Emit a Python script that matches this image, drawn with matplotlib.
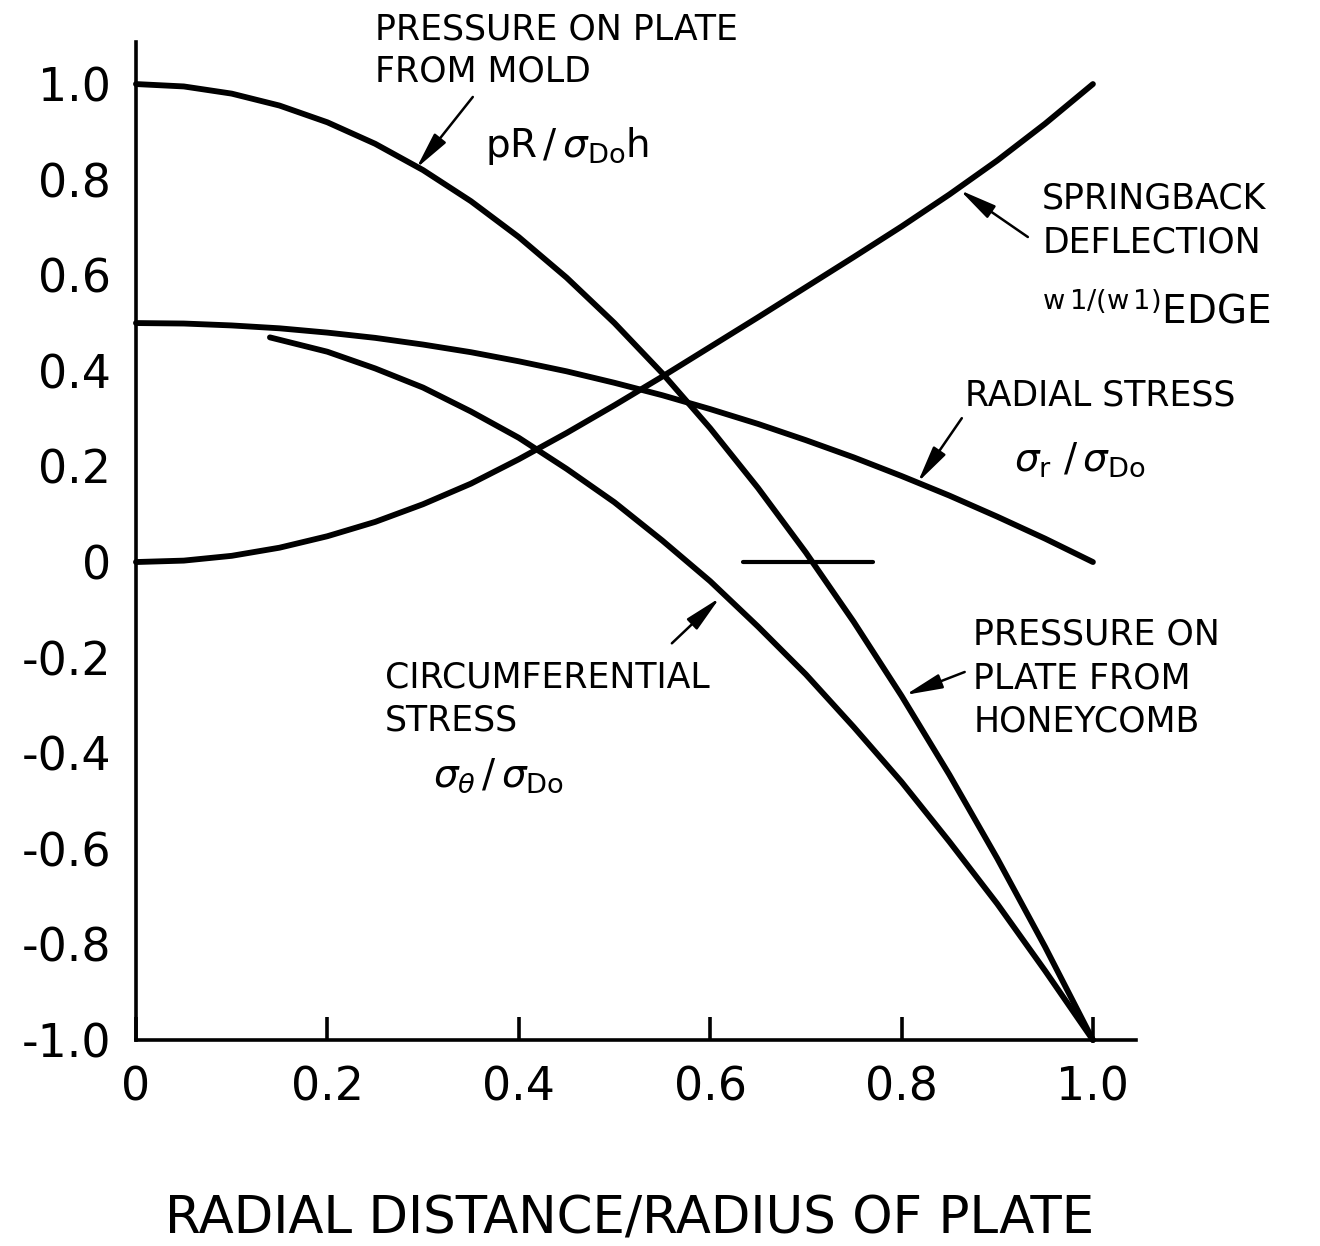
import numpy as np
import matplotlib.pyplot as plt

plt.rcParams['font.family'] = ['DejaVu Sans']
plt.rcParams['mathtext.fontset'] = 'dejavusans'

# pressure on plate from mold, pR/sigma_Do h
r_mold = [0.0, 0.05, 0.10, 0.15, 0.20, 0.25, 0.30, 0.35, 0.40, 0.45, 0.50,
          0.55, 0.60, 0.65, 0.70, 0.75, 0.80, 0.85, 0.90, 0.95, 1.0]
p_mold = [1.0, 0.995, 0.98, 0.955, 0.92, 0.875, 0.82, 0.755, 0.68, 0.595, 0.50,
          0.395, 0.28, 0.155, 0.02, -0.125, -0.28, -0.445, -0.62, -0.805, -1.0]

# springback deflection w1/(w1)edge
r_spring = [0.0, 0.05, 0.10, 0.15, 0.20, 0.25, 0.30, 0.35, 0.40, 0.45, 0.50,
            0.55, 0.60, 0.65, 0.70, 0.75, 0.80, 0.85, 0.90, 0.95, 1.0]
w_spring = [0.0, 0.003, 0.013, 0.030, 0.054, 0.084, 0.121, 0.164, 0.215, 0.270, 0.328,
            0.388, 0.450, 0.512, 0.575, 0.638, 0.702, 0.769, 0.840, 0.917, 1.0]

# radial stress sigma_r / sigma_Do
r_radial = [0.0, 0.05, 0.10, 0.15, 0.20, 0.25, 0.30, 0.35, 0.40, 0.45, 0.50,
            0.55, 0.60, 0.65, 0.70, 0.75, 0.80, 0.85, 0.90, 0.95, 1.0]
s_radial = [0.50, 0.499, 0.495, 0.489, 0.48, 0.469, 0.455, 0.439, 0.42, 0.399, 0.375,
            0.349, 0.32, 0.289, 0.255, 0.219, 0.18, 0.139, 0.095, 0.049, 0.0]

# circumferential stress sigma_theta / sigma_Do
r_circ = [0.14, 0.15, 0.20, 0.25, 0.30, 0.35, 0.40, 0.45, 0.50, 0.55, 0.60,
          0.65, 0.70, 0.75, 0.80, 0.85, 0.90, 0.95, 1.0]
s_circ = [0.47, 0.465, 0.44, 0.405, 0.365, 0.315, 0.26, 0.195, 0.125, 0.045, -0.04,
          -0.135, -0.235, -0.345, -0.46, -0.585, -0.715, -0.855, -1.0]

# short zero marker across the honeycomb pressure curve
r_zero = [0.634, 0.770]
s_zero = [0.0, 0.0]

x_ticks = [0, 0.2, 0.4, 0.6, 0.8, 1.0]
x_labels = ['0', '0.2', '0.4', '0.6', '0.8', '1.0']
y_ticks = [1.0, 0.8, 0.6, 0.4, 0.2, 0, -0.2, -0.4, -0.6, -0.8, -1.0]
y_labels = ['1.0', '0.8', '0.6', '0.4', '0.2', '0', '-0.2', '-0.4', '-0.6', '-0.8', '-1.0']

fig = plt.figure(figsize=(13.2, 12.46), dpi=100)
ax = fig.add_axes([0.103, 0.1653, 0.7576, 0.801])

for xs, ys in [(r_mold, p_mold), (r_spring, w_spring), (r_radial, s_radial), (r_circ, s_circ)]:
    ax.plot(xs, ys, color='k', lw=4.2, solid_capstyle='round', solid_joinstyle='round', clip_on=False)
ax.plot(r_zero, s_zero, color='k', lw=3, solid_capstyle='round')

ax.set_xlim(0, 1.045)
ax.set_ylim(-1.0, 1.088)
for side in ['top', 'right']:
    ax.spines[side].set_visible(False)
for side in ['left', 'bottom']:
    ax.spines[side].set_linewidth(2.6)

ax.set_xticks(x_ticks)
ax.set_xticklabels(x_labels)
ax.set_yticks(y_ticks)
ax.set_yticklabels(y_labels)
ax.tick_params(axis='x', direction='in', length=16.5, width=2.6, pad=18, labelsize=33)
ax.tick_params(axis='y', length=0, pad=18, labelsize=33)

fig.text(0.477, 0.021, 'RADIAL DISTANCE/RADIUS OF PLATE', fontsize=37,
         ha='center', va='center')

arrow = dict(arrowstyle='-|>,head_length=0.75,head_width=0.15', color='k',
             lw=1.8, mutation_scale=30, shrinkA=0, shrinkB=0)
fs = 25
mfs = 28

ax.text(0.25, 1.07, 'PRESSURE ON PLATE\nFROM MOLD', fontsize=fs, ha='left', va='center',
        linespacing=1.3)
ax.text(0.365, 0.847, r'$\mathrm{pR}\,/\,\sigma_{\mathrm{Do}}\mathrm{h}$', fontsize=mfs,
        ha='left', va='baseline')
ax.annotate('', xy=(0.293, 0.824), xytext=(0.352, 0.973), arrowprops=arrow)

ax.text(0.947, 0.715, 'SPRINGBACK\nDEFLECTION', fontsize=fs, ha='left', va='center',
        linespacing=1.35)
ax.text(0.947, 0.50, r'${}^{\mathrm{w}\,1/(\mathrm{w}\,1)}\mathrm{EDGE}$', fontsize=mfs,
        ha='left', va='baseline')
ax.annotate('', xy=(0.861, 0.778), xytext=(0.932, 0.680), arrowprops=arrow)

ax.text(0.866, 0.349, 'RADIAL STRESS', fontsize=fs, ha='left', va='center')
ax.text(0.918, 0.192, r'$\sigma_{\mathrm{r}}\ /\,\sigma_{\mathrm{Do}}$', fontsize=mfs,
        ha='left', va='baseline')
ax.annotate('', xy=(0.817, 0.167), xytext=(0.863, 0.301), arrowprops=arrow)

ax.text(0.875, -0.243, 'PRESSURE ON\nPLATE FROM\nHONEYCOMB', fontsize=fs, ha='left',
        va='center', linespacing=1.35)
ax.annotate('', xy=(0.804, -0.278), xytext=(0.866, -0.23), arrowprops=arrow)

ax.text(0.26, -0.287, 'CIRCUMFERENTIAL\nSTRESS', fontsize=fs, ha='left', va='center',
        linespacing=1.35)
ax.text(0.31, -0.471, r'$\sigma_{\theta}\,/\,\sigma_{\mathrm{Do}}$', fontsize=mfs,
        ha='left', va='baseline')
ax.annotate('', xy=(0.61, -0.075), xytext=(0.56, -0.17), arrowprops=arrow)

fig.savefig('out.png', dpi=100, facecolor='white')
